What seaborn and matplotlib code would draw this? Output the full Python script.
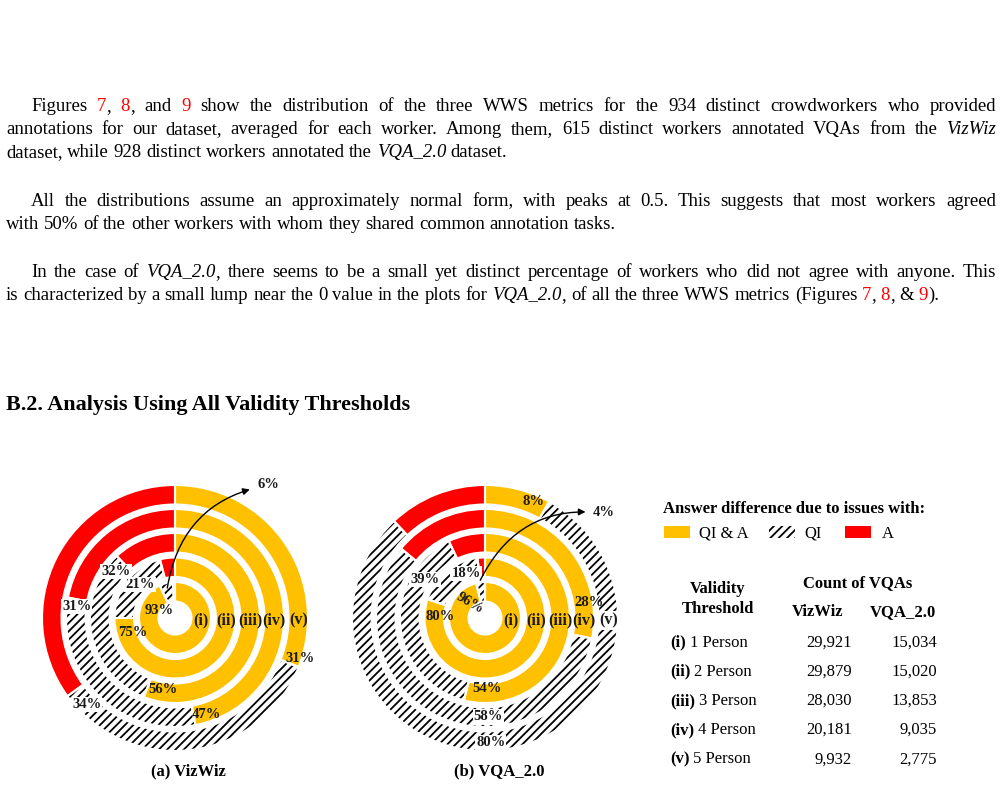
"""
Page snippet: appendix text plus nested donut charts of answer differences
for VizWiz and VQA_2.0 at five validity thresholds, with legend and table.
"""

import re
import numpy as np
import matplotlib
matplotlib.use("Agg")
import matplotlib.pyplot as plt
from matplotlib.patches import Rectangle
import seaborn as sns

# ---- data -----------------------------------------------------------------
rings = ["(i)", "(ii)", "(iii)", "(iv)", "(v)"]
persons = ["1 Person", "2 Person", "3 Person", "4 Person", "5 Person"]

# share of answer differences (%) per ring, innermost (i) to outermost (v)
vizwiz_qia = [93, 75, 56, 47, 31]
vizwiz_qi = [6, 21, 32, 31, 34]
vizwiz_a = [1, 4, 12, 22, 35]

vqa_qia = [96, 80, 54, 28, 8]
vqa_qi = [4, 18, 39, 58, 80]
vqa_a = [0, 2, 7, 14, 12]

count_vizwiz = [29921, 29879, 28030, 20181, 9932]
count_vqa = [15034, 15020, 13853, 9035, 2775]

paragraphs = [
    ["Figures {7}, {8}, and {9} show the distribution of the three WWS metrics for the 934 distinct crowdworkers who provided",
     "annotations for our dataset, averaged for each worker. Among them, 615 distinct workers annotated VQAs from the <VizWiz>",
     "dataset, while 928 distinct workers annotated the <VQA_2.0> dataset."],
    ["All the distributions assume an approximately normal form, with peaks at 0.5. This suggests that most workers agreed",
     "with 50% of the other workers with whom they shared common annotation tasks."],
    ["In the case of <VQA_2.0>, there seems to be a small yet distinct percentage of workers who did not agree with anyone. This",
     "is characterized by a small lump near the 0 value in the plots for <VQA_2.0>, of all the three WWS metrics (Figures {7}, {8}, & {9})."],
]
para_baselines = [[110.7, 134.0, 157.3], [205.7, 229.0], [276.7, 300.0]]

# ---- style ----------------------------------------------------------------
GOLD = "#FFC000"
RED = "#FF0000"
HATCH = "////"
R_PX = 133.0                     # outer radius of ring (v) in pixels
RING_OUTER = [36, 60.5, 85, 109, 133]
RING_W = 19.5

sns.set_theme(style="white")
plt.rcParams["font.family"] = ["Liberation Serif", "DejaVu Serif"]
plt.rcParams["text.color"] = "black"
plt.rcParams["hatch.linewidth"] = 1.3
plt.rcParams["hatch.color"] = "black"

fig = plt.figure(figsize=(10.02, 7.88), dpi=100)
page = fig.add_axes([0, 0, 1, 1])
page.set_xlim(0, 1002)
page.set_ylim(788, 0)
page.axis("off")
renderer = fig.canvas.get_renderer()

BODY = 13.5


def split_runs(word):
    runs = []
    for piece in re.split(r"(\{[^}]*\}|<[^>]*>)", word):
        if not piece:
            continue
        if piece.startswith("{"):
            runs.append((piece[1:-1], "red"))
        elif piece.startswith("<"):
            runs.append((piece[1:-1], "italic"))
        else:
            runs.append((piece, "normal"))
    return runs


def set_line(line, x0, x1, y, justify, size=BODY):
    words = [split_runs(w) for w in line.split(" ")]
    placed, widths = [], []
    for runs in words:
        items, total = [], 0.0
        for text, kind in runs:
            t = page.text(0, y, text, fontsize=size, va="baseline",
                          color="red" if kind == "red" else "black",
                          style="italic" if kind == "italic" else "normal")
            w = t.get_window_extent(renderer).width
            items.append((t, w))
            total += w
        placed.append(items)
        widths.append(total)
    if justify and len(words) > 1:
        gap = (x1 - x0 - sum(widths)) / (len(words) - 1)
    else:
        gap = size * 100 / 72 * 0.25
    x = x0
    for items, wt in zip(placed, widths):
        xx = x
        for t, w in items:
            t.set_x(xx)
            xx += w
        x += wt + gap


for lines, ys in zip(paragraphs, para_baselines):
    for k, (line, y) in enumerate(zip(lines, ys)):
        x0 = 31 if k == 0 else 6
        set_line(line, x0, 996, y, justify=k < len(lines) - 1)

page.text(6, 410, "B.2. Analysis Using All Validity Thresholds",
          fontsize=15.9, fontweight="bold", va="baseline")


# ---- donuts ---------------------------------------------------------------
def polar(theta, r_px):
    t = np.radians(theta)
    return r_px / R_PX * np.sin(t), r_px / R_PX * np.cos(t)


def donut(cx, cy, qia, qi, a, qia_pos, qi_pos, arrow_r, arrow_txt,
          boxed_ring_labels):
    ax = fig.add_axes([(cx - 150) / 1002, (788 - cy - 150) / 788,
                       300 / 1002, 300 / 788])
    for k in range(len(rings)):
        vals = [qia[k], qi[k], a[k]]
        r = RING_OUTER[k] / R_PX
        w = RING_W / R_PX
        ax.pie(vals, radius=r, startangle=90, counterclock=False,
               colors=[GOLD, "white", RED], hatch=["", HATCH, ""],
               wedgeprops=dict(width=w, linewidth=0, edgecolor="black"))
        ax.pie(vals, radius=r, startangle=90, counterclock=False,
               wedgeprops=dict(width=w, fill=False, edgecolor="white",
                               linewidth=1.5))

        gold_end = 3.6 * qia[k]
        qi_end = 3.6 * (qia[k] + qi[k])
        off, rr, rot = qia_pos[k]
        x, y = polar(gold_end + off, rr)
        ax.text(x, y, f"{qia[k]}%", ha="center", va="center", fontsize=10.5,
                fontweight="bold", rotation=rot, color="#1a1a1a", zorder=5)
        if qi_pos[k] is not None:
            off, rr = qi_pos[k]
            x, y = polar(qi_end + off, rr)
            ax.text(x, y, f"{qi[k]}%", ha="center", va="center",
                    fontsize=10.5, fontweight="bold", color="#1a1a1a",
                    zorder=5,
                    bbox=dict(boxstyle="square,pad=0.08", facecolor="white",
                              edgecolor="none"))

        mid = (RING_OUTER[k] - RING_W / 2) / R_PX
        box = None
        if k in boxed_ring_labels:
            box = dict(boxstyle="square,pad=0.08", facecolor="white",
                       edgecolor="none")
        ax.text(mid, -0.02, rings[k], ha="center", va="center",
                fontsize=11.5, fontweight="bold", color="#1a1a1a", bbox=box,
                zorder=5)

    # arrow from the small QI slice of ring (i) to its label
    start = polar(3.6 * (qia[0] + qi[0] / 2), arrow_r)
    ax.annotate(f"{qi[0]}%", xy=start,
                xytext=(arrow_txt[0] / R_PX, arrow_txt[1] / R_PX),
                ha="center", va="center", fontsize=10.5, fontweight="bold",
                color="#1a1a1a", zorder=6,
                arrowprops=dict(arrowstyle="<|-", color="black", lw=1.0,
                                mutation_scale=10, shrinkA=3, shrinkB=0,
                                connectionstyle="arc3,rad=0.35"))
    lim = 150 / R_PX
    ax.set_xlim(-lim, lim)
    ax.set_ylim(-lim, lim)
    ax.set_aspect("equal")
    ax.axis("off")
    return ax


# label placement: (degrees back from segment end, radius px[, rotation])
viz_qia_pos = [(-39, 17.5, 0), (-18.6, 44, 0), (-12.3, 72.6, 0),
               (-7.4, 101.7, 0), (-3.6, 131, 0)]
viz_qi_pos = [None, (-32, 48.3), (-8.4, 75.2), (-4, 99), (-8.5, 123.8)]
vqa_qia_pos = [(-32, 21, -30), (-15.8, 45, 0), (-16.3, 71, 0),
               (-19, 105.4, 0), (-6.3, 126.3, 0)]
vqa_qi_pos = [None, (-16, 48.2), (-32.2, 71.2), (-131.6, 99), (-139.4, 125)]

donut(175, 618, vizwiz_qia, vizwiz_qi, vizwiz_a, viz_qia_pos, viz_qi_pos,
      arrow_r=31, arrow_txt=(93, 133), boxed_ring_labels=[])
donut(485, 618, vqa_qia, vqa_qi, vqa_a, vqa_qia_pos, vqa_qi_pos,
      arrow_r=38, arrow_txt=(119, 105), boxed_ring_labels=[4])

page.text(188, 775, "(a) VizWiz", ha="center", va="baseline", fontsize=12,
          fontweight="bold")
page.text(499, 775, "(b) VQA_2.0", ha="center", va="baseline", fontsize=12,
          fontweight="bold")

# ---- legend ---------------------------------------------------------------
page.text(663, 512.7, "Answer difference due to issues with:", fontsize=12,
          fontweight="bold", va="baseline")
page.add_patch(Rectangle((664, 526), 26, 12, facecolor=GOLD, linewidth=0))
page.add_patch(Rectangle((769, 526), 26, 12, facecolor="white",
                         edgecolor="black", linewidth=0, hatch=HATCH))
page.add_patch(Rectangle((845, 526), 26, 12, facecolor=RED, linewidth=0))
for x, label in [(699, "QI & A"), (804, "QI"), (882, "A")]:
    page.text(x, 537.7, label, fontsize=12, va="baseline")

# ---- table ----------------------------------------------------------------
page.text(718, 593.3, "Validity", ha="center", va="baseline", fontsize=12,
          fontweight="bold")
page.text(718, 612.7, "Threshold", ha="center", va="baseline", fontsize=12,
          fontweight="bold")
page.text(858, 586.7, "Count of VQAs", ha="center", va="baseline",
          fontsize=12, fontweight="bold")
page.text(818, 616, "VizWiz", ha="center", va="baseline", fontsize=12,
          fontweight="bold")
page.text(903, 616, "VQA_2.0", ha="center", va="baseline", fontsize=12,
          fontweight="bold")

row_y = [646.7, 675.5, 705, 734, 763.3]
for ring, person, cv, cq, y in zip(rings, persons, count_vizwiz, count_vqa,
                                   row_y):
    t = page.text(670, y, ring, fontsize=12, fontweight="bold",
                  va="baseline")
    w = t.get_window_extent(renderer).width
    page.text(670 + w + 4, y, person, fontsize=12, va="baseline")
    page.text(852, y, f"{cv:,}", ha="right", fontsize=12, va="baseline")
    page.text(937, y, f"{cq:,}", ha="right", fontsize=12, va="baseline")

fig.savefig("out.png", dpi=100)
